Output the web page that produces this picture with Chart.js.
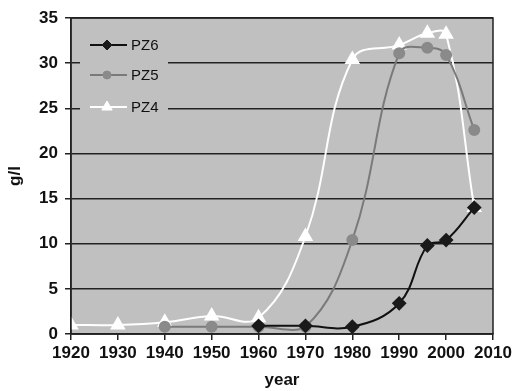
<!DOCTYPE html>
<html><head><meta charset="utf-8">
<script src="https://cdn.jsdelivr.net/npm/chart.js@4"></script>
<style>html,body{margin:0;padding:0;background:#fff}#wrap{width:515px;height:391px}</style>
</head><body><div id="wrap"><canvas id="c" width="515" height="391"></canvas></div>
<script>
const yearsPZ6 = [1960, 1970, 1980, 1990, 1996, 2000, 2006];
const valuesPZ6 = [0.9, 0.9, 0.8, 3.4, 9.8, 10.4, 14.0];
const yearsPZ5 = [1940, 1950, 1960, 1970, 1980, 1990, 1996, 2000, 2006];
const valuesPZ5 = [0.8, 0.8, 0.8, 0.8, 10.4, 31.1, 31.7, 30.9, 22.6];
const yearsPZ4 = [1920, 1930, 1940, 1950, 1960, 1970, 1980, 1990, 1996, 2000, 2006];
const valuesPZ4 = [1.0, 1.0, 1.3, 2.0, 1.8, 10.8, 30.4, 32.0, 33.3, 33.2, 14.0];
const xTicks = [1920, 1930, 1940, 1950, 1960, 1970, 1980, 1990, 2000, 2010];
const yTicks = [0, 5, 10, 15, 20, 25, 30, 35];

const toPts = (xs, ys) => xs.map((x, i) => ({x: x, y: ys[i]}));
const FONT = "'Liberation Sans', Arial, sans-serif";

const bgPlugin = {
  id: 'bg',
  beforeDraw(chart) {
    const {ctx, chartArea: a} = chart;
    ctx.save();
    ctx.fillStyle = '#c0c0c0';
    ctx.fillRect(a.left, a.top, a.right - a.left, a.bottom - a.top);
    ctx.restore();
  },
  beforeDatasetsDraw(chart) {
    const {ctx} = chart;
    ctx.save();
    ctx.fillStyle = '#c0c0c0';
    ctx.fillRect(80, 30, 88, 88);
    ctx.restore();
  },
  afterDatasetsDraw(chart) {
    const {ctx} = chart;
    ctx.save();
    const rows = [45, 75, 107];
    chart.data.datasets.forEach((ds, i) => {
      const y = rows[i];
      ctx.strokeStyle = ds.borderColor;
      ctx.lineWidth = 2;
      ctx.beginPath(); ctx.moveTo(90, y); ctx.lineTo(127, y); ctx.stroke();
      ctx.fillStyle = ds.pointBackgroundColor;
      ctx.strokeStyle = ds.pointBorderColor;
      ctx.lineWidth = 1;
      Chart.helpers.drawPoint(ctx, {pointStyle: ds.pointStyle, radius: ds.pointRadius - 1, rotation: 0, borderWidth: 1}, 107, y);
      ctx.fillStyle = '#111';
      ctx.font = '15px ' + FONT;
      ctx.textBaseline = 'middle';
      ctx.fillText(ds.label, 131, y + 1);
    });
    const a = chart.chartArea;
    ctx.strokeStyle = '#222';
    ctx.lineWidth = 1.5;
    ctx.strokeRect(a.left, a.top, a.right - a.left, a.bottom - a.top);
    ctx.restore();
  }
};

new Chart(document.getElementById('c'), {
  type: 'line',
  data: {
    datasets: [
      {label: 'PZ6', data: toPts(yearsPZ6, valuesPZ6), borderColor: '#111', backgroundColor: '#111',
       pointBackgroundColor: '#1a1a1a', pointBorderColor: '#1a1a1a', pointStyle: 'rectRot', pointRadius: 6, borderWidth: 2, tension: 0.4},
      {label: 'PZ5', data: toPts(yearsPZ5, valuesPZ5), borderColor: '#7a7a7a', backgroundColor: '#7a7a7a',
       pointBackgroundColor: '#8a8a8a', pointBorderColor: '#8a8a8a', pointStyle: 'circle', pointRadius: 5, borderWidth: 2, tension: 0.4},
      {label: 'PZ4', data: toPts(yearsPZ4, valuesPZ4), borderColor: '#ffffff', backgroundColor: '#ffffff',
       pointBackgroundColor: '#ffffff', pointBorderColor: '#ffffff', pointStyle: 'triangle', pointRadius: 7, borderWidth: 2, tension: 0.4}
    ]
  },
  options: {
    responsive: false,
    animation: false,
    layout: {padding: {top: 18, right: 22, left: 0, bottom: 0}},
    plugins: {legend: {display: false}, tooltip: {enabled: false}},
    scales: {
      x: {
        type: 'linear', min: 1920, max: 2010,
        afterBuildTicks(s) { s.ticks = xTicks.map(v => ({value: v})); },
        afterFit(s) { s.height = 57; },
        grid: {display: true, drawOnChartArea: false, drawTicks: true, tickLength: 6, color: '#222', lineWidth: 1.5},
        border: {display: true, color: '#222', width: 1.5},
        ticks: {color: '#111', font: {family: FONT, size: 17, weight: 'bold'}, padding: 3, maxRotation: 0, autoSkip: false,
                callback: v => String(v)},
        title: {display: true, text: 'year', color: '#111', font: {family: FONT, size: 17, weight: 'bold'}, padding: {top: 2, bottom: 0}}
      },
      y: {
        min: 0, max: 35,
        afterBuildTicks(s) { s.ticks = yTicks.map(v => ({value: v})); },
        afterFit(s) { s.width = 71; },
        grid: {display: true, color: '#222', lineWidth: 1.5, tickLength: 6, drawTicks: true},
        border: {display: true, color: '#222', width: 1.5},
        ticks: {color: '#111', font: {family: FONT, size: 17, weight: 'bold'}, padding: 7, callback: v => String(v)},
        title: {display: true, text: 'g/l', color: '#111', font: {family: FONT, size: 17, weight: 'bold'}, padding: {top: 5, bottom: 0}}
      }
    }
  },
  plugins: [bgPlugin]
});
</script>
</body></html>
